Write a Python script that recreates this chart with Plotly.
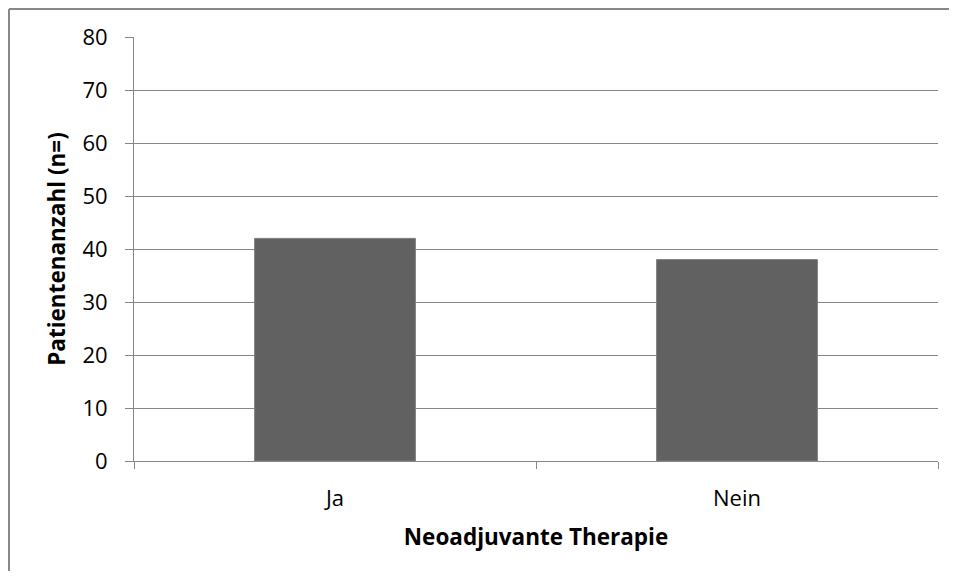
import plotly.graph_objects as go

categories = ["Ja", "Nein"]
values = [42, 38]
y_ticks = [0, 10, 20, 30, 40, 50, 60, 70, 80]

grid = "#868686"
L, R, T, B = 126, 19, 29, 110
PW, PH = 804, 424

fig = go.Figure(go.Bar(x=categories, y=values,
                       marker=dict(color="#616161", line=dict(color="#7f7f7f", width=1)),
                       width=0.4))

bx = -(L - 1) / PW
by = 1 + (T - 1) / PH
fig.update_layout(
    width=L + PW + R, height=T + PH + B,
    margin=dict(l=L, r=R, t=T, b=B),
    paper_bgcolor="white", plot_bgcolor="white",
    font=dict(family="Open Sans", color="black"),
    showlegend=False,
    shapes=[
        dict(type="line", xref="paper", yref="paper", x0=bx, x1=1.1, y0=by, y1=by,
             line=dict(color="#888888", width=2), layer="below"),
        dict(type="line", xref="paper", yref="paper", x0=bx, x1=bx, y0=-0.5, y1=by,
             line=dict(color="#888888", width=2), layer="below"),
    ],
)

fig.update_yaxes(range=[0, 80], tickvals=y_ticks, showgrid=True, gridcolor=grid, gridwidth=1,
                 showline=True, linecolor=grid, linewidth=1, ticks="outside", ticklen=8, tickcolor=grid,
                 tickfont=dict(size=22), zeroline=False, ticklabelstandoff=13,
                 title=dict(text="<b>Patientenanzahl (n=)</b>", font=dict(size=22.5), standoff=10))
fig.update_xaxes(tickson="boundaries", showline=True, linecolor=grid, linewidth=1, ticks="outside",
                 ticklen=7, tickcolor=grid, tickfont=dict(size=22), showgrid=False, ticklabelstandoff=18,
                 title=dict(text="<b>Neoadjuvante Therapie</b>", font=dict(size=22.5), standoff=17))

fig.write_html("out.html")
